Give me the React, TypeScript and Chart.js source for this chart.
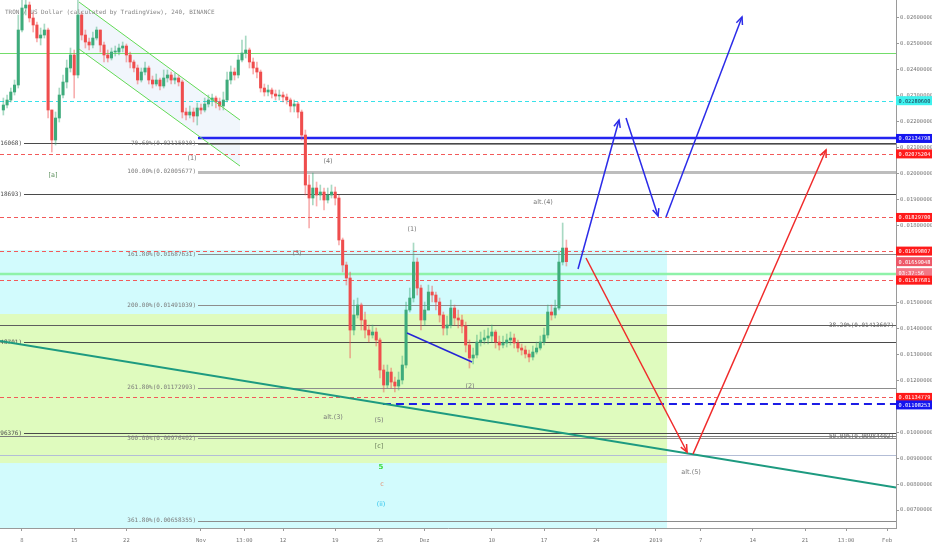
import React, { useEffect, useRef } from 'react';
import { Chart, registerables } from 'chart.js';

Chart.register(...registerables);

const TITLE = 'TRON / US Dollar (calculated by TradingView), 240, BINANCE';

// x axis: days since 1 Oct 2018
const xMinDay = 4.05;
const xMaxDay = 124.2;
const xTickDays = [7, 14, 21, 31, 36.8, 42, 49, 55, 61, 70, 77, 84, 92, 98, 105, 112, 117.5, 123];
const xTickLabels = ['8', '15', '22', 'Nov', '13:00', '12', '19', '25', 'Dez', '10', '17', '24', '2019', '7', '14', '21', '13:00', 'Feb'];

const yMin = 0.0063049;
const yMax = 0.0266951;

// 12-hour candles
const candleFirstDay = 4.5;
const candleStepDays = 0.5;
const candleFirstOpen = 0.022447;
const candleClose = [
  0.022640, 0.022833, 0.023142, 0.023412, 0.025536, 0.026386, 0.026502, 0.026000, 0.025730, 0.025227,
  0.025343, 0.025536, 0.022447, 0.021288, 0.022138, 0.023026, 0.023528, 0.024069, 0.024571, 0.023799,
  0.026116, 0.025343, 0.025073, 0.024957, 0.025227, 0.025536, 0.024957, 0.024571, 0.024455, 0.024687,
  0.024687, 0.024841, 0.024918, 0.024571, 0.024301, 0.024069, 0.023605, 0.023914, 0.024069, 0.023605,
  0.023451, 0.023605, 0.023374, 0.023683, 0.023799, 0.023605, 0.023683, 0.023528, 0.022370, 0.022254,
  0.022370, 0.022215, 0.022524, 0.022447, 0.022678, 0.022833, 0.022910, 0.022756, 0.022601, 0.022833,
  0.023605, 0.023914, 0.023799, 0.024378, 0.024648, 0.024764, 0.024301, 0.024069, 0.023914, 0.023296,
  0.023142, 0.023219, 0.023065, 0.022987, 0.023026, 0.022949, 0.022833, 0.022601, 0.022678, 0.022370,
  0.021481, 0.019550, 0.019048, 0.019435, 0.019164, 0.019280, 0.018971, 0.019164, 0.019280, 0.019048,
  0.017426, 0.016461, 0.015959, 0.013950, 0.014530, 0.014916, 0.014337, 0.013950, 0.013757, 0.013873,
  0.013564, 0.012406, 0.011826, 0.012328, 0.011942, 0.011788, 0.012019, 0.012599, 0.014723, 0.015186,
  0.016576, 0.015572, 0.014337, 0.014723, 0.015418, 0.015302, 0.015032, 0.014530, 0.014028, 0.014144,
  0.014800, 0.014414, 0.014337, 0.014105, 0.013371, 0.012869, 0.012985, 0.013487, 0.013564, 0.013641,
  0.013719, 0.013873, 0.013487, 0.013371, 0.013448, 0.013564, 0.013641, 0.013448, 0.013255, 0.013178,
  0.013024, 0.012908, 0.013101, 0.013255, 0.013487, 0.013757, 0.014646, 0.014530, 0.014800, 0.016576,
  0.017117, 0.016590,
];
const candleHigh = [
  0.022910, 0.023026, 0.023296, 0.023605, 0.026116, 0.026888, 0.026888, 0.026618, 0.026232, 0.025845,
  0.025614, 0.025768, 0.025614, 0.022447, 0.022370, 0.023296, 0.023799, 0.024378, 0.024841, 0.024764,
  0.026695, 0.026232, 0.025536, 0.025227, 0.025459, 0.025652, 0.025536, 0.025073, 0.024764, 0.024841,
  0.024918, 0.024996, 0.025073, 0.024996, 0.024687, 0.024378, 0.024185, 0.024069, 0.024301, 0.024146,
  0.023760, 0.023837, 0.023683, 0.023992, 0.023992, 0.023914, 0.023876, 0.023799, 0.023605, 0.022524,
  0.022601, 0.022524, 0.022717, 0.022678, 0.022910, 0.023026, 0.023065, 0.022987, 0.022910, 0.023142,
  0.023914, 0.024146, 0.024069, 0.024571, 0.025150, 0.025305, 0.024841, 0.024455, 0.024301, 0.023992,
  0.023451, 0.023412, 0.023296, 0.023219, 0.023219, 0.023142, 0.023065, 0.022910, 0.022833, 0.022756,
  0.022447, 0.021674, 0.019937, 0.020014, 0.019666, 0.019550, 0.019435, 0.019435, 0.019550, 0.019473,
  0.019164, 0.017503, 0.016576, 0.016190, 0.015109, 0.015186, 0.014993, 0.014646, 0.014144, 0.014144,
  0.014028, 0.013641, 0.012599, 0.012599, 0.012483, 0.012135, 0.012328, 0.012946, 0.015032, 0.015572,
  0.017310, 0.016731, 0.015688, 0.015032, 0.015688, 0.015650, 0.015418, 0.015186, 0.014646, 0.014491,
  0.015109, 0.014916, 0.014723, 0.014530, 0.014259, 0.013564, 0.013255, 0.013757, 0.013873, 0.013950,
  0.014028, 0.014144, 0.013950, 0.013719, 0.013719, 0.013796, 0.013873, 0.013796, 0.013564, 0.013410,
  0.013332, 0.013178, 0.013332, 0.013487, 0.013719, 0.014028, 0.014916, 0.014916, 0.015109, 0.016963,
  0.018083, 0.017426,
];
const candleLow = [
  0.022254, 0.022524, 0.022756, 0.023026, 0.023296, 0.025459, 0.026116, 0.025845, 0.025459, 0.025073,
  0.024957, 0.025227, 0.022138, 0.020825, 0.021095, 0.021983, 0.022910, 0.023296, 0.023914, 0.022910,
  0.023683, 0.025150, 0.024841, 0.024764, 0.024841, 0.025150, 0.024687, 0.024301, 0.024301, 0.024378,
  0.024532, 0.024571, 0.024687, 0.024301, 0.024069, 0.023914, 0.023451, 0.023528, 0.023799, 0.023451,
  0.023296, 0.023374, 0.023219, 0.023296, 0.023528, 0.023451, 0.023451, 0.023374, 0.022138, 0.022061,
  0.022138, 0.021983, 0.021868, 0.022292, 0.022370, 0.022563, 0.022601, 0.022524, 0.022447, 0.022447,
  0.022756, 0.023451, 0.023605, 0.023683, 0.024301, 0.024455, 0.024069, 0.023837, 0.023683, 0.023142,
  0.022987, 0.022987, 0.022910, 0.022833, 0.022833, 0.022756, 0.022678, 0.022370, 0.022370, 0.022138,
  0.021288, 0.019164, 0.017890, 0.018778, 0.018739, 0.018971, 0.018585, 0.018855, 0.019048, 0.018778,
  0.017233, 0.016190, 0.015688, 0.012869, 0.013757, 0.014414, 0.013950, 0.013641, 0.013487, 0.013641,
  0.013332, 0.012097, 0.011556, 0.011710, 0.011710, 0.011556, 0.011633, 0.011865, 0.012483, 0.014646,
  0.015032, 0.015302, 0.013950, 0.014144, 0.014723, 0.015032, 0.014723, 0.014259, 0.013757, 0.013757,
  0.014028, 0.014144, 0.014028, 0.013835, 0.013101, 0.012483, 0.012637, 0.012869, 0.013332, 0.013410,
  0.013410, 0.013487, 0.013255, 0.013178, 0.013255, 0.013294, 0.013371, 0.013255, 0.013101, 0.012985,
  0.012869, 0.012715, 0.012792, 0.013024, 0.013178, 0.013371, 0.013641, 0.014337, 0.014414, 0.014723,
  0.016461, 0.016422,
];

// zones
const cyanZoneDays = [0, 93.5];
const cyanZoneValues = [0.01704, 0.006];
const greenZoneDays = [0, 93.5];
const greenZoneValues = [0.014568, 0.008814];

// falling channel
const channelDays = [14.64, 36.23];
const channelUpper = [0.026618, 0.022061];
const channelLower = [0.024803, 0.020284];

// fib retracement (labels left of start)
const fibStartDay = 30.6;
const fibLabels = ['70.60%', '100.00%', '161.80%', '200.00%', '261.80%', '300.00%', '361.80%'];
const fibValues = [0.0211501, 0.02005677, 0.01687631, 0.01491039, 0.01172993, 0.00976402, 0.00658355];

// second fib, labels cut at the left edge
const leftFibDay = 7.0;
const leftFibValues = [0.02116068, 0.01918693, 0.01348701, 0.00996376];

// third fib, labels at right
const rightFibLabels = ['38.20%', '50.00%'];
const rightFibValues = [0.01413607, 0.00984402];

// horizontal levels
const redDashValues = [0.02075204, 0.018297, 0.01699807, 0.01587681, 0.01134779];
const greenLevel = 0.024648;
const cyanDashLevel = 0.022806;
const blueLevel = 0.02134798;
const blueDashLevel = 0.01108253;
const blueDashStartDay = 55.4;
const mintLevel = 0.016113;
const steelLevel = 0.009123;

// trend lines
const trendDays = [4.05, 124.2];
const trendValues = [0.013526, 0.007868];
const waveLineDays = [58.63, 67.35];
const waveLineValues = [0.013835, 0.012715];

// projection arrows
const blueArrowDays = [[81.56, 87.06], [88.0, 92.29], [93.36, 103.55]];
const blueArrowValues = [[0.016306, 0.022061], [0.022138, 0.018353], [0.018314, 0.026038]];
const redArrowDays = [[82.63, 96.18], [96.98, 114.82]];
const redArrowValues = [[0.016731, 0.009239], [0.009162, 0.020902]];

// wave labels
const waveTexts = ['[a]', '(1)', '(4)', '(3)', '(1)', 'alt.(4)', '(2)', 'alt.(3)', '(5)', '[c]', '5', 'c', '(ii)', 'alt.(5)'];
const waveDays = [11.16, 29.8, 48.04, 43.88, 59.3, 76.87, 67.08, 48.71, 54.87, 54.87, 55.14, 55.28, 55.14, 96.72];
const waveValues = [0.019937, 0.020593, 0.020477, 0.016924, 0.017851, 0.018894, 0.011788, 0.01059, 0.010475, 0.009471, 0.00866, 0.008003, 0.007231, 0.008466];
const waveColors = ['#5f925f', '#7a7a7a', '#7a7a7a', '#7a7a7a', '#7a7a7a', '#7a7a7a', '#7a7a7a', '#7a7a7a', '#7a7a7a', '#6b7d5c', '#3ddc3d', '#e3977c', '#2fc3ec', '#7a7a7a'];

// axis price tags
const tagValues = [0.022806, 0.02134798, 0.02075204, 0.018297, 0.01699807, 0.01659048, 0.01587681, 0.01134779, 0.01108253];
const tagBg = ['#3ef2ee', '#1515ef', '#ff1a1a', '#ff1a1a', '#ff1a1a', '#ee5868', '#ff1a1a', '#ff1a1a', '#1515ef'];
const tagFg = ['#1d3550', '#ffffff', '#ffffff', '#ffffff', '#ffffff', '#ffffff', '#ffffff', '#ffffff', '#ffffff'];
const lastPrice = 0.01659048;
const countdownText = '03:37:56';

const MONO = '"DejaVu Sans Mono", monospace';
const SANS = '"DejaVu Sans", sans-serif';

function arrowHead(ctx: CanvasRenderingContext2D, x0: number, y0: number, x1: number, y1: number, color: string) {
  const a = Math.atan2(y1 - y0, x1 - x0);
  const L = 8;
  ctx.save();
  ctx.strokeStyle = color;
  ctx.lineWidth = 1.5;
  ctx.beginPath();
  ctx.moveTo(x1 - L * Math.cos(a - 0.42), y1 - L * Math.sin(a - 0.42));
  ctx.lineTo(x1, y1);
  ctx.lineTo(x1 - L * Math.cos(a + 0.42), y1 - L * Math.sin(a + 0.42));
  ctx.stroke();
  ctx.restore();
}

const overlayPlugin = {
  id: 'overlay',
  beforeDatasetsDraw(chart: any) {
    const { ctx, chartArea: a, scales } = chart;
    const sx = scales.x, sy = scales.y;
    const X = (d: number) => sx.getPixelForValue(d);
    const Y = (v: number) => sy.getPixelForValue(v);
    ctx.save();
    ctx.beginPath();
    ctx.rect(a.left, a.top, a.right - a.left, a.bottom - a.top);
    ctx.clip();

    // zones
    ctx.fillStyle = '#d2fbfd';
    ctx.fillRect(X(cyanZoneDays[0]), Y(cyanZoneValues[0]), X(cyanZoneDays[1]) - X(cyanZoneDays[0]), Y(cyanZoneValues[1]) - Y(cyanZoneValues[0]));
    ctx.fillStyle = '#dffbbe';
    ctx.fillRect(X(greenZoneDays[0]), Y(greenZoneValues[0]), X(greenZoneDays[1]) - X(greenZoneDays[0]), Y(greenZoneValues[1]) - Y(greenZoneValues[0]));

    // channel fill
    ctx.fillStyle = 'rgba(214,228,245,0.35)';
    ctx.beginPath();
    ctx.moveTo(X(channelDays[0]), Y(channelUpper[0]));
    ctx.lineTo(X(channelDays[1]), Y(channelUpper[1]));
    ctx.lineTo(X(channelDays[1]), Y(channelLower[1]));
    ctx.lineTo(X(channelDays[0]), Y(channelLower[0]));
    ctx.closePath();
    ctx.fill();

    const hl = (x0: number, v: number, color: string, w: number, dash: number[] = []) => {
      const y = Math.round(Y(v)) + (w % 2 === 1 ? 0.5 : 0);
      ctx.save();
      ctx.strokeStyle = color;
      ctx.lineWidth = w;
      ctx.setLineDash(dash);
      ctx.beginPath();
      ctx.moveTo(x0, y);
      ctx.lineTo(a.right, y);
      ctx.stroke();
      ctx.restore();
    };

    hl(a.left, steelLevel, '#b3bdd6', 1);
    hl(a.left, greenLevel, '#73dd6a', 1);
    hl(a.left, cyanDashLevel, '#38e2ea', 1, [4, 3]);

    // left fib
    ctx.font = `6px ${MONO}`;
    ctx.textBaseline = 'middle';
    leftFibValues.forEach((v) => {
      const xl = X(leftFibDay);
      hl(xl + 2, v, '#4a4a4a', 1);
      ctx.fillStyle = '#4a4a4a';
      ctx.textAlign = 'right';
      ctx.fillText(`(${v.toFixed(8)})`, xl, Y(v));
    });

    // main fib
    fibValues.forEach((v, i) => {
      const xs = X(fibStartDay);
      if (i === 1) hl(xs, v, '#bdbdbd', 3);
      else hl(xs, v, '#8d8d8d', 1);
      ctx.fillStyle = '#7a7a7a';
      ctx.textAlign = 'right';
      ctx.fillText(`${fibLabels[i]}(${v.toFixed(8)})`, xs - 2, Y(v));
    });

    // right fib
    rightFibValues.forEach((v, i) => {
      hl(a.left, v, i === 0 ? '#5e5e5e' : '#7c7c7c', 1);
    });

    hl(a.left, mintLevel, '#8ef2a9', 2.5);
    redDashValues.forEach((v) => hl(a.left, v, '#f25a5a', 1, [4, 3]));
    hl(X(fibStartDay), blueLevel, '#2424f0', 2.5);
    hl(X(blueDashStartDay), blueDashLevel, '#1c1ce6', 2, [8, 5]);

    rightFibValues.forEach((v, i) => {
      ctx.fillStyle = '#666666';
      ctx.textAlign = 'right';
      ctx.fillText(`${rightFibLabels[i]}(${v.toFixed(8)})`, a.right - 2, Y(v));
    });

    ctx.restore();
  },
  afterDatasetsDraw(chart: any) {
    const { ctx, chartArea: a, scales } = chart;
    const sx = scales.x, sy = scales.y;
    const X = (d: number) => sx.getPixelForValue(d);
    const Y = (v: number) => sy.getPixelForValue(v);
    ctx.save();
    ctx.beginPath();
    ctx.rect(a.left, a.top, a.right - a.left, a.bottom - a.top);
    ctx.clip();

    blueArrowDays.forEach((d, i) => arrowHead(ctx, X(d[0]), Y(blueArrowValues[i][0]), X(d[1]), Y(blueArrowValues[i][1]), '#2b2be8'));
    redArrowDays.forEach((d, i) => arrowHead(ctx, X(d[0]), Y(redArrowValues[i][0]), X(d[1]), Y(redArrowValues[i][1]), '#f02a2a'));

    ctx.textAlign = 'center';
    ctx.textBaseline = 'middle';
    waveTexts.forEach((t, i) => {
      ctx.font = t === '5' ? `bold 7px ${SANS}` : `6.5px ${SANS}`;
      ctx.fillStyle = waveColors[i];
      ctx.fillText(t, X(waveDays[i]), Y(waveValues[i]));
    });

    ctx.font = `6px ${MONO}`;
    ctx.textAlign = 'left';
    ctx.fillStyle = '#858585';
    ctx.fillText(TITLE, a.left + 5, a.top + 12);
    ctx.restore();
  },
  afterDraw(chart: any) {
    const { ctx, chartArea: a, scales, width } = chart;
    const sy = scales.y;
    const items: { y: number; bg: string; fg: string; text: string }[] = tagValues.map((v, i) => ({
      y: sy.getPixelForValue(v), bg: tagBg[i], fg: tagFg[i], text: v.toFixed(8),
    }));
    items.push({ y: sy.getPixelForValue(lastPrice) + 11, bg: '#f27887', fg: '#ffffff', text: countdownText });
    items.sort((p, q) => p.y - q.y);
    let prev = -100;
    ctx.save();
    ctx.font = `5.3px ${MONO}`;
    ctx.textBaseline = 'middle';
    ctx.textAlign = 'left';
    items.forEach((it) => {
      const y = Math.max(it.y, prev + 7.5);
      prev = y;
      ctx.fillStyle = it.bg;
      ctx.fillRect(a.right, y - 4.5, width - a.right, 9);
      ctx.fillStyle = it.fg;
      ctx.fillText(it.text, a.right + 2.5, y + 0.5);
    });
    ctx.restore();
  },
};

export default function App() {
  const ref = useRef<HTMLCanvasElement | null>(null);
  useEffect(() => {
    if (!ref.current) return;
    const bodies: any[] = [];
    const wicks: any[] = [];
    const bodyColors: string[] = [];
    const wickColors: string[] = [];
    let open = candleFirstOpen;
    candleClose.forEach((c, i) => {
      const d = candleFirstDay + i * candleStepDays;
      const up = c >= open;
      bodies.push({ x: d, y: [open, c] });
      wicks.push({ x: d, y: [Math.min(candleLow[i], open, c), Math.max(candleHigh[i], open, c)] });
      bodyColors.push(up ? '#3eab7b' : '#ef4d4d');
      wickColors.push(up ? 'rgba(62,171,123,0.45)' : 'rgba(239,77,77,0.45)');
      open = c;
    });

    const lineDs = (days: number[], vals: number[], color: string, w: number) => ({
      type: 'line' as const,
      data: days.map((d, i) => ({ x: d, y: vals[i] })),
      borderColor: color,
      borderWidth: w,
      pointRadius: 0,
      fill: false,
      tension: 0,
    });

    const datasets: any[] = [
      ...blueArrowDays.map((d, i) => lineDs(d, blueArrowValues[i], '#2b2be8', 1.5)),
      ...redArrowDays.map((d, i) => lineDs(d, redArrowValues[i], '#f02a2a', 1.5)),
      lineDs(channelDays, channelUpper, '#62da55', 1),
      lineDs(channelDays, channelLower, '#62da55', 1),
      lineDs(waveLineDays, waveLineValues, '#2525d5', 1.5),
      {
        type: 'bar',
        data: bodies,
        backgroundColor: bodyColors,
        barThickness: 2.4,
        grouped: false,
        minBarLength: 1,
      },
      {
        type: 'bar',
        data: wicks,
        backgroundColor: wickColors,
        barThickness: 1,
        grouped: false,
      },
      lineDs(trendDays, trendValues, '#1d9a80', 2),
    ];

    const chart = new Chart(ref.current, {
      type: 'bar',
      data: { datasets },
      options: {
        responsive: false,
        animation: false,
        layout: { padding: 0 },
        plugins: { legend: { display: false }, tooltip: { enabled: false } },
        scales: {
          x: {
            type: 'linear',
            min: xMinDay,
            max: xMaxDay,
            offset: false,
            grid: { drawOnChartArea: false, drawTicks: true, tickLength: 3, color: '#9a9a9a', offset: false },
            border: { display: true, color: '#9a9a9a' },
            afterBuildTicks: (s: any) => {
              s.ticks = xTickDays.map((v) => ({ value: v }));
            },
            afterFit: (s: any) => {
              s.height = 22;
              s.paddingLeft = 0;
              s.paddingRight = 0;
            },
            ticks: {
              autoSkip: false,
              maxRotation: 0,
              padding: 6,
              color: '#777777',
              font: { family: MONO, size: 5.5 },
              callback: (v: any) => {
                const i = xTickDays.indexOf(Number(v));
                return i >= 0 ? xTickLabels[i] : '';
              },
            },
          },
          y: {
            type: 'linear',
            position: 'right',
            min: yMin,
            max: yMax,
            grid: { drawOnChartArea: false, drawTicks: true, tickLength: 3, color: '#9a9a9a' },
            border: { display: true, color: '#9a9a9a' },
            afterFit: (s: any) => {
              s.width = 36;
              s.paddingTop = 0;
              s.paddingBottom = 0;
            },
            ticks: {
              stepSize: 0.001,
              includeBounds: false,
              autoSkip: false,
              padding: 1,
              color: '#777777',
              font: { family: MONO, size: 5.5 },
              callback: (v: any) => Number(v).toFixed(8),
            },
          },
        },
      } as any,
      plugins: [overlayPlugin],
    } as any);
    return () => chart.destroy();
  }, []);

  return (
    <div style={{ position: 'absolute', left: 0, top: 0, width: 932, height: 550, background: '#fff' }}>
      <canvas ref={ref} width={932} height={550} style={{ display: 'block' }} />
    </div>
  );
}
